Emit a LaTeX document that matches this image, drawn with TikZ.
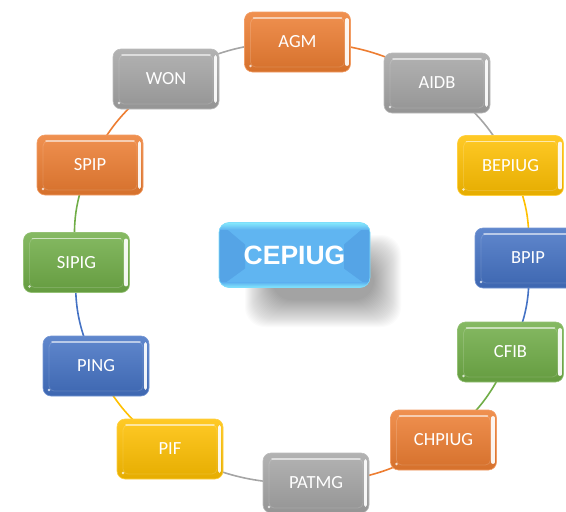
\documentclass[tikz,border=0pt]{standalone}
\usepackage{fontspec}
\setmainfont{Carlito}
\newfontfamily\ctrfont{Liberation Sans}
\usetikzlibrary{calc,backgrounds}

\definecolor{cOrange}{HTML}{ED7D31}
\definecolor{cGray}{HTML}{A5A5A5}
\definecolor{cYellow}{HTML}{FFC000}
\definecolor{cBlue}{HTML}{4472C4}
\definecolor{cGreen}{HTML}{70AD47}
\definecolor{cSky}{HTML}{60B5F1}
\definecolor{cSkyDark}{HTML}{55A4E6}
\definecolor{cCyan}{HTML}{8AF0FF}

\tikzset{
  bevbox/.style={rounded corners=8pt, minimum width=106pt, minimum height=60pt,
    inner sep=0pt, text=white, font=\fontsize{18.5}{18.5}\selectfont,
    top color=#1!85!white, middle color=#1, bottom color=#1!90!black,
    draw=#1!75!white, line width=0.6pt,
    path picture={
      \coordinate (nw) at (path picture bounding box.north west);
      \coordinate (se) at (path picture bounding box.south east);
      \draw[white, opacity=0.15, line width=0.8pt, rounded corners=5pt]
        ($(nw)+(6pt,-6pt)$) rectangle ($(se)+(-6pt,5pt)$);
      \draw[white, opacity=0.55, line width=1.6pt, line cap=round, sharp corners]
        ($(nw)+(9pt,-6pt)$) -- ($(se|-nw)+(-9pt,-6pt)$);
      \draw[white, opacity=0.92, line width=3.8pt, line cap=round, sharp corners]
        ($(se|-nw)+(-3.5pt,-8pt)$) -- ($(se)+(-3.5pt,8pt)$);
      \fill[white, opacity=0.75] ($(nw|-se)+(6pt,6pt)$) circle (1.3pt);
    }},
  conn/.style={draw=#1, line width=1.6pt},
}

\begin{document}
\begin{tikzpicture}[x=1pt,y=-1pt]
\useasboundingbox (0,0) rectangle (566,512);

\node[bevbox=cOrange] (AGM)    at (297.5,42)  {AGM};
\node[bevbox=cGray]   (AIDB)   at (437,83)    {AIDB};
\node[bevbox=cYellow] (BEPIUG) at (510.5,165.5) {BEPIUG};
\node[bevbox=cBlue]   (BPIP)   at (528,258)   {BPIP};
\node[bevbox=cGreen]  (CFIB)   at (510.5,352) {CFIB};
\node[bevbox=cOrange] (CHPIUG) at (443.5,440) {CHPIUG};
\node[bevbox=cGray]   (PATMG)  at (316,483)   {PATMG};
\node[bevbox=cYellow] (PIF)    at (170,449)   {PIF};
\node[bevbox=cBlue]   (PING)   at (96,366)    {PING};
\node[bevbox=cGreen]  (SIPIG)  at (76.5,262.5) {SIPIG};
\node[bevbox=cOrange] (SPIP)   at (90,165)    {SPIP};
\node[bevbox=cGray]   (WON)    at (166,79)    {WON};

% soft shadow of the centre box
\foreach \i in {0,...,27} {
  \fill[black, opacity=0.016, rounded corners=20pt] (272-\i,262-\i) rectangle (374+\i,300+\i);
}

\node[rounded corners=10pt, minimum width=151pt, minimum height=65pt, inner sep=0pt,
  fill=cSky, draw=cCyan!70!cSky, line width=0.6pt,
  text=white, font=\ctrfont\bfseries\fontsize{26.5}{26.5}\selectfont,
  path picture={
    \coordinate (nw) at (path picture bounding box.north west);
    \coordinate (se) at (path picture bounding box.south east);
    \fill[cSkyDark, sharp corners] (nw) -- ($(nw)+(26pt,-22pt)$) -- ($(nw|-se)+(26pt,19pt)$) -- (nw|-se) -- cycle;
    \fill[cSkyDark, sharp corners] (se|-nw) -- ($(se|-nw)+(-26pt,-22pt)$) -- ($(se)+(-26pt,19pt)$) -- (se) -- cycle;
    \shade[sharp corners, top color=cCyan, bottom color=cSky, opacity=0.9] (nw) rectangle ($(se|-nw)+(0,-7pt)$);
    \shade[sharp corners, top color=cSky, bottom color=cCyan, opacity=0.9] ($(nw|-se)+(0,5pt)$) rectangle (se);
  }] (CEPIUG) at (294.5,255) {CEPIUG};

\begin{scope}[on background layer]
\draw[conn=cOrange] (AGM.center)    to[bend left=15] (AIDB.center);
\draw[conn=cGray]   (AIDB.center)   to[bend left=15] (BEPIUG.center);
\draw[conn=cYellow] (BEPIUG.center) to[bend left=15] (BPIP.center);
\draw[conn=cBlue]   (BPIP.center)   to[bend left=15] (CFIB.center);
\draw[conn=cGreen]  (CFIB.center)   to[bend left=15] (CHPIUG.center);
\draw[conn=cOrange] (CHPIUG.center) to[bend left=15] (PATMG.center);
\draw[conn=cGray]   (PATMG.center)  to[bend left=15] (PIF.center);
\draw[conn=cYellow] (PIF.center)    to[bend left=15] (PING.center);
\draw[conn=cBlue]   (PING.center)   to[bend left=15] (SIPIG.center);
\draw[conn=cGreen]  (SIPIG.center)  to[bend left=15] (SPIP.center);
\draw[conn=cOrange] (SPIP.center)   to[bend left=15] (WON.center);
\draw[conn=cGray]   (WON.center)    to[bend left=15] (AGM.center);
\end{scope}
\end{tikzpicture}
\end{document}
